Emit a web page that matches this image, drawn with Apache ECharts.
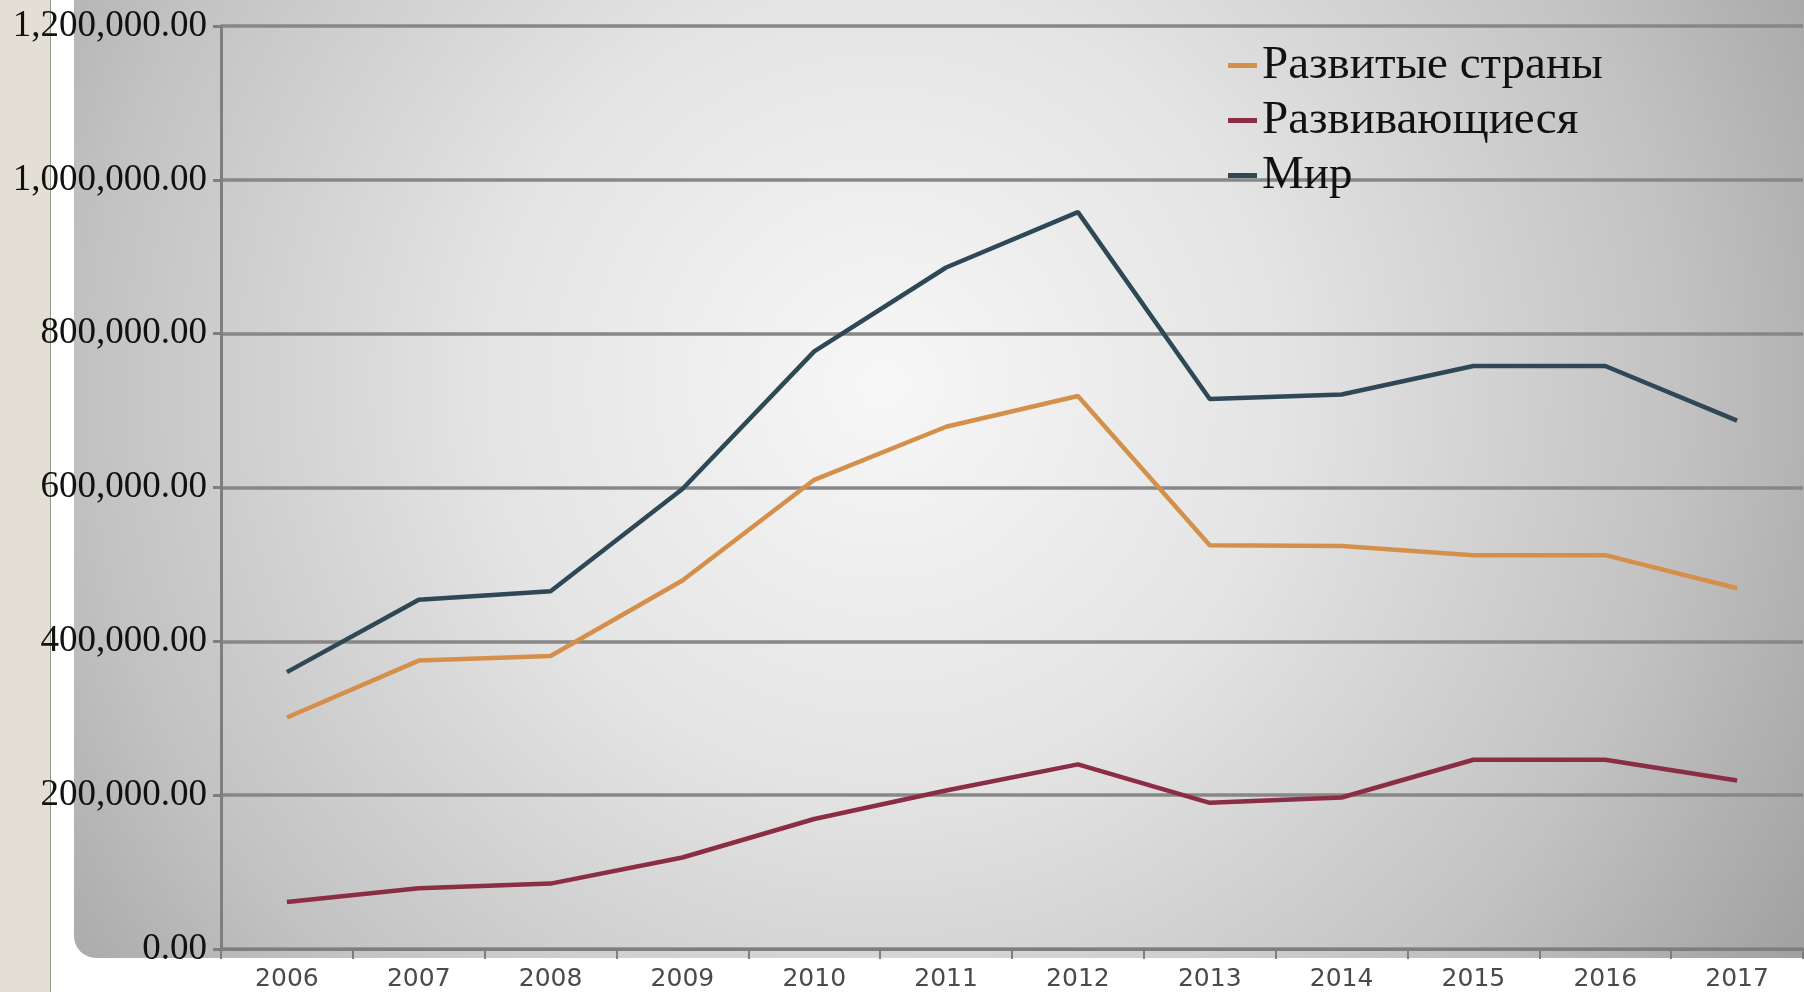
<!DOCTYPE html>
<html>
<head>
<meta charset="utf-8">
<script src="https://cdn.jsdelivr.net/npm/echarts@6/dist/echarts.min.js"></script>
<style>
  html, body { margin: 0; padding: 0; background: #ffffff; }
  #main { width: 1804px; height: 992px; }
</style>
</head>
<body>
<div id="main"></div>
<script>
// годы
var years = ['2006', '2007', '2008', '2009', '2010', '2011', '2012', '2013', '2014', '2015', '2016', '2017'];
// значения
var developed  = [301000, 375000, 381000, 479000, 610000, 679000, 719000, 525000, 524000, 512000, 512000, 469000];
var developing = [61000, 79000, 85000, 119000, 169000, 206000, 240000, 190000, 197000, 246000, 246000, 219000];
var world      = [360000, 454000, 465000, 598000, 777000, 886000, 958000, 715000, 721000, 758000, 758000, 687000];
var seriesNames = ['Развитые страны', 'Развивающиеся', 'Мир'];
var yTicks = [0, 200000, 400000, 600000, 800000, 1000000, 1200000];

var myChart = echarts.init(document.getElementById('main'));

function lineSeries(name, data, color) {
    return {
        name: name,
        type: 'line',
        data: data,
        showSymbol: false,
        symbol: 'none',
        lineStyle: { color: color, width: 4.5 },
        itemStyle: { color: color },
        z: 5
    };
}

var option = {
    animation: false,
    graphic: [
        // бежевая полоса слева
        { type: 'rect', z: -10, shape: { x: 0, y: 0, width: 50, height: 992 }, style: { fill: '#e4dfd4' } },
        { type: 'rect', z: -10, shape: { x: 50, y: 0, width: 1, height: 992 }, style: { fill: '#9a9890' } },
        // серая панель с градиентом
        {
            type: 'rect', z: -10,
            shape: { x: 74, y: -30, width: 1760, height: 988, r: [0, 0, 0, 22] },
            style: {
                fill: new echarts.graphic.RadialGradient(0.46, 0.42, 1.15, [
                    { offset: 0, color: '#f7f7f7' },
                    { offset: 0.35, color: '#e4e4e4' },
                    { offset: 0.7, color: '#c2c2c2' },
                    { offset: 1, color: '#9a9a9a' }
                ])
            }
        }
    ],
    legend: {
        data: seriesNames,
        orient: 'vertical',
        left: 1228,
        top: 38,
        padding: 0,
        itemGap: 0,
        icon: 'rect',
        itemWidth: 29,
        itemHeight: 5,
        textStyle: {
            fontFamily: 'Liberation Serif',
            fontSize: 47,
            color: '#111111',
            lineHeight: 55
        }
    },
    grid: { left: 221, right: 1, top: 26, bottom: 43 },
    xAxis: {
        type: 'category',
        data: years,
        boundaryGap: true,
        axisLine: { lineStyle: { color: '#7e7e7e', width: 3 } },
        axisTick: { show: true, length: 10, interval: 0, lineStyle: { color: '#7e7e7e', width: 2 } },
        axisLabel: {
            fontFamily: 'DejaVu Sans',
            fontSize: 25,
            color: '#4a4a4a',
            margin: 18,
            interval: 0
        },
        splitLine: { show: false }
    },
    yAxis: {
        type: 'value',
        min: yTicks[0],
        max: yTicks[yTicks.length - 1],
        interval: 200000,
        axisLine: { show: true, lineStyle: { color: '#7e7e7e', width: 3 } },
        axisTick: { show: true, length: 8, lineStyle: { color: '#7e7e7e', width: 3 } },
        axisLabel: {
            fontFamily: 'Liberation Serif',
            fontSize: 37,
            color: '#111111',
            margin: 14,
            formatter: function (v) {
                return v.toLocaleString('en-US', { minimumFractionDigits: 2, maximumFractionDigits: 2 });
            }
        },
        splitLine: { show: true, lineStyle: { color: '#878787', width: 3.5 } }
    },
    series: [
        lineSeries(seriesNames[0], developed, '#d4904a'),
        lineSeries(seriesNames[1], developing, '#8b2d45'),
        lineSeries(seriesNames[2], world, '#2e4856')
    ]
};

myChart.setOption(option);
</script>
</body>
</html>
